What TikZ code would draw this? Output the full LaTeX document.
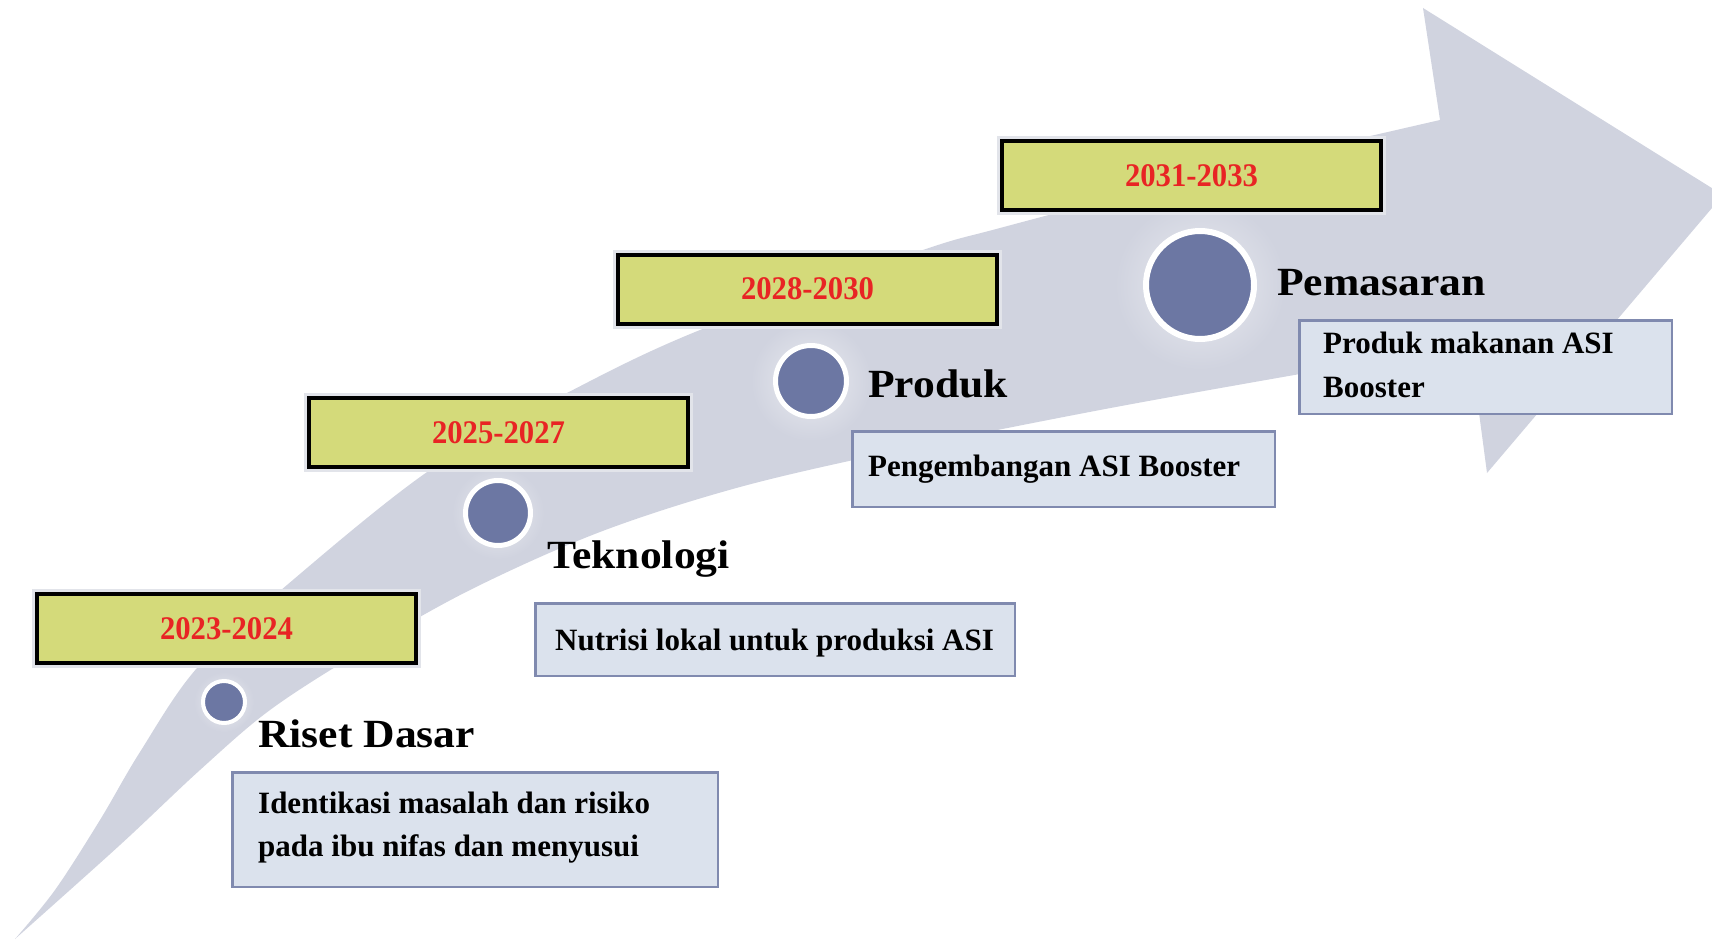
\documentclass[tikz,border=0pt]{standalone}
\usepackage{fontspec}
\setmainfont{Liberation Serif}
\usepackage{graphicx}
\definecolor{bandc}{RGB}{208,211,223}
\definecolor{glowc}{RGB}{226,228,234}
\definecolor{dotc}{RGB}{108,119,163}
\definecolor{yearfill}{RGB}{212,218,122}
\definecolor{yearred}{RGB}{232,36,36}
\definecolor{descfill}{RGB}{219,226,237}
\definecolor{descline}{RGB}{128,138,175}
\newcommand{\yrfont}{\fontsize{33}{36}\bfseries\selectfont}
\newcommand{\ttlfont}{\fontsize{40}{44}\bfseries\selectfont}
\newcommand{\dscfont}{\fontsize{31}{36}\bfseries\selectfont}
\newcommand{\yr}[1]{\scalebox{0.93}[1]{#1}}
\newcommand{\ttl}[1]{\scalebox{1.09}[1]{#1}}
\begin{document}
\begin{tikzpicture}[x=1pt,y=-1pt,
  yearbox/.style={draw=black, line width=4pt, fill=yearfill, minimum width=379pt,
    minimum height=69pt, inner sep=0pt, text=yearred, font=\yrfont,
    preaction={draw=glowc, line width=10pt}},
  descbox/.style={draw=descline, line width=2.5pt, fill=descfill, inner sep=0pt},
  dot/.style={circle, draw=white, fill=dotc, inner sep=0pt, outer sep=0pt},
  titletext/.style={anchor=base west, inner sep=0pt, font=\ttlfont, text=black},
  desctext/.style={anchor=base west, inner sep=0pt, font=\dscfont, text=black}]
\useasboundingbox (0,0) rectangle (1712,939);
% curved band arrow
\begin{scope}
\clip (0,0) rectangle (1712,939);
\fill[bandc] plot[smooth, tension=0.55] coordinates {(15,939) (55,890) (100,820) (140,752) (197,668) (287,585) (430,470) (567,393) (700,330) (917,252) (1000,228) (1200,176) (1440,120)}
  -- (1423,8) -- (1723,195) -- (1487,473) -- (1470,345)
  -- plot[smooth, tension=0.55] coordinates {(1470,345) (1300,374) (1100,410) (900,450) (740,487) (600,532) (470,590) (360,652) (270,710) (200,770) (120,845) (15,939)} -- cycle;
\end{scope}
% soft halos
\shade[inner color=white!55!bandc, outer color=bandc] (224,702) circle (30);
\shade[inner color=white!55!bandc, outer color=bandc] (498,513) circle (46);
\shade[inner color=white!55!bandc, outer color=bandc] (811,381) circle (60);
\shade[inner color=white!55!bandc, outer color=bandc] (1200,285) circle (85);
% dots
\node[dot, line width=4pt, minimum size=42pt] (c1) at (224,702) {};
\node[dot, line width=5pt, minimum size=65pt] (c2) at (498,513) {};
\node[dot, line width=5pt, minimum size=71pt] (c3) at (811,381) {};
\node[dot, line width=6pt, minimum size=108pt] (c4) at (1200,285) {};
% year boxes
\node[yearbox] (y1) at (226.5,628.5) {\yr{2023-2024}};
\node[yearbox] (y2) at (498.5,432.5) {\yr{2025-2027}};
\node[yearbox] (y3) at (807.5,289) {\yr{2028-2030}};
\node[yearbox] (y4) at (1191.5,175.5) {\yr{2031-2033}};
% titles
\node[titletext] (t1) at (258,747) {\ttl{Riset Dasar}};
\node[titletext] (t2) at (547,568) {\ttl{Teknologi}};
\node[titletext] (t3) at (868,397) {\ttl{Produk}};
\node[titletext] (t4) at (1277,295) {\ttl{Pemasaran}};
% description boxes
\node[descbox, minimum width=485.5pt, minimum height=114.5pt] (d1) at (475,829.5) {};
\node[descbox, minimum width=479.5pt, minimum height=72.5pt] (d2) at (775,639.5) {};
\node[descbox, minimum width=422.5pt, minimum height=75.5pt] (d3) at (1063.5,469) {};
\node[descbox, minimum width=372.5pt, minimum height=93.5pt] (d4) at (1485.5,367) {};
\node[desctext] (d1a) at (258,813) {Identikasi masalah dan risiko};
\node[desctext] (d1b) at (258,856) {pada ibu nifas dan menyusui};
\node[desctext] (d2a) at (555,650) {Nutrisi lokal untuk produksi ASI};
\node[desctext] (d3a) at (868,476) {Pengembangan ASI Booster};
\node[desctext] (d4a) at (1323,353) {Produk makanan ASI};
\node[desctext] (d4b) at (1323,397) {Booster};
\end{tikzpicture}
\end{document}
